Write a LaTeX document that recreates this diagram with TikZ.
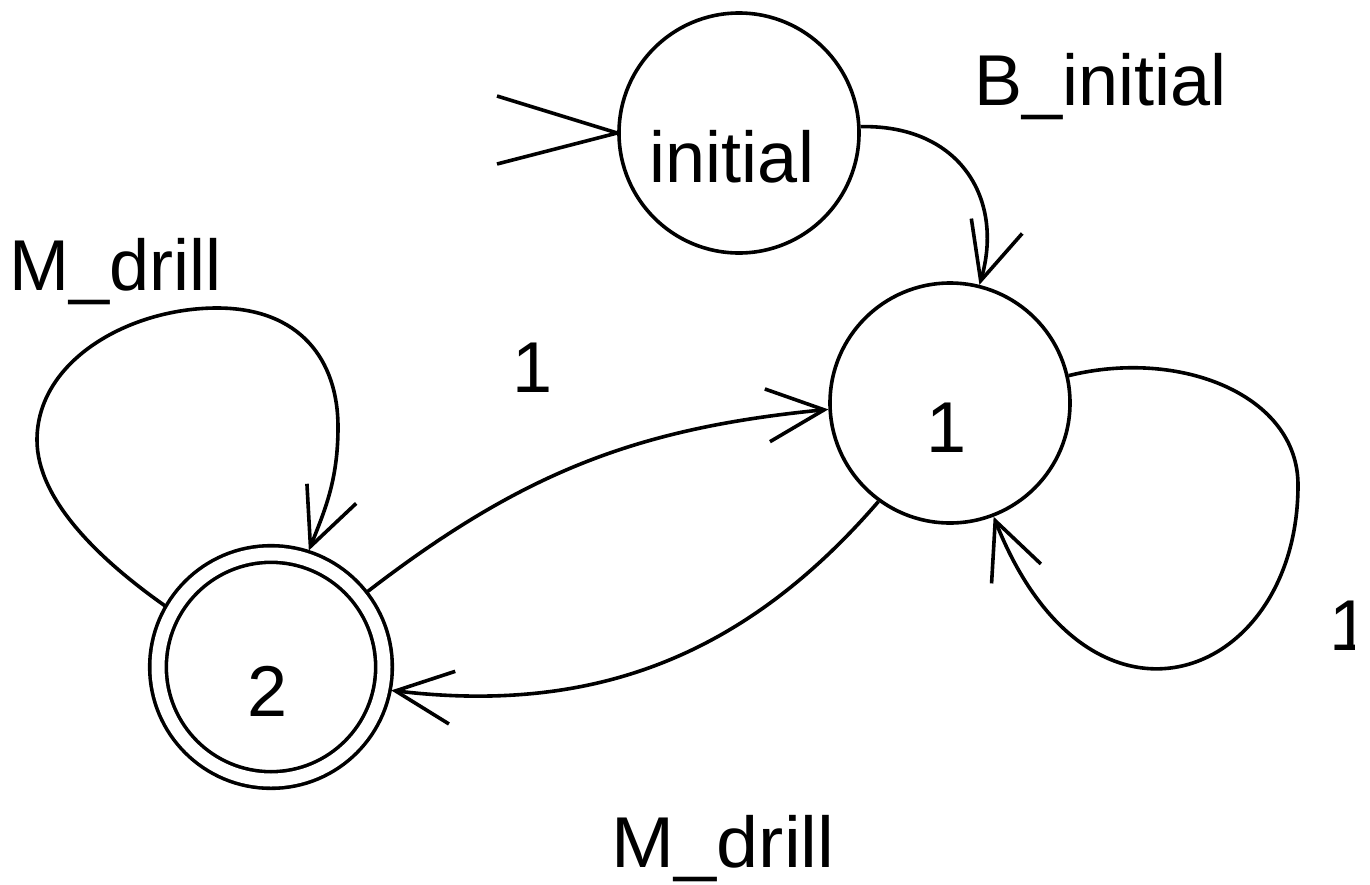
\documentclass[tikz,border=0pt]{standalone}
\usepackage{fontspec}
\setmainfont{Liberation Sans}
\usetikzlibrary{arrows.meta}
\begin{document}
\begin{tikzpicture}[x=1pt,y=-1pt,
  line width=3.6pt,
  every node/.style={font=\fontsize{72}{80}\selectfont},
  state/.style={circle,draw,minimum size=240pt,inner sep=0pt,text height=98pt,text depth=0pt},
  accepting/.style={double,double distance=13pt,minimum size=226pt,outer sep=9.5pt},
  lbl/.style={inner sep=0pt},
  arr/.style={-{Straight Barb[length=57pt,width=53pt]}},
  startv/.style={line join=round},
]
\useasboundingbox (0,0) rectangle (1370,884);

% states
\node[state] (initial) at (739,133) {initial\hspace*{14pt}};
\node[state] (n1) at (950,403) {1\hspace*{6pt}};
\node[state,accepting] (n2) at (271,667) {2\hspace*{6pt}};

% start marker
\coordinate (iA) at (497,96);
\coordinate (iB) at (497,164);
\draw[startv] (iA) -- (initial.west) -- (iB);

% initial -> 1
\draw[arr] (initial.3) .. controls +(100,-2) and +(25,-85) .. (n1.76);

% 1 -> 1 loop
\draw[arr] (n1.13) .. controls (1180,348) and (1298,395) .. (1298,485)
  .. controls (1298,680) and (1090,760) .. (n1.-69);

% 2 -> 2 loop
\draw[arr] (n2.150) .. controls (100,560) and (37,500) .. (37,440)
  .. controls (37,360) and (130,308) .. (217,308)
  .. controls (300,308) and (338,360) .. (338,427)
  .. controls (338,480) and (325,510) .. (n2.72);

% 2 -> 1
\draw[arr] (n2.38) to[bend left=16] (n1.183);

% 1 -> 2
\draw[arr] (n1.234) to[bend left=28] (n2.-11);

% labels
\node[lbl,anchor=base west] (lBinit) at (973,105) {B\_initial};
\node[lbl,anchor=base west] (lMdrillA) at (8,290) {M\_drill};
\node[lbl,anchor=base] (lOneA) at (533,392) {1};
\begin{scope}
\clip (1300,560) rectangle (1354,700);
\node[lbl,anchor=base] (lOneB) at (1350,650) {1};
\end{scope}
\node[lbl,anchor=base west,xscale=1.05] (lMdrillB) at (610,867) {M\_drill};
\end{tikzpicture}
\end{document}
